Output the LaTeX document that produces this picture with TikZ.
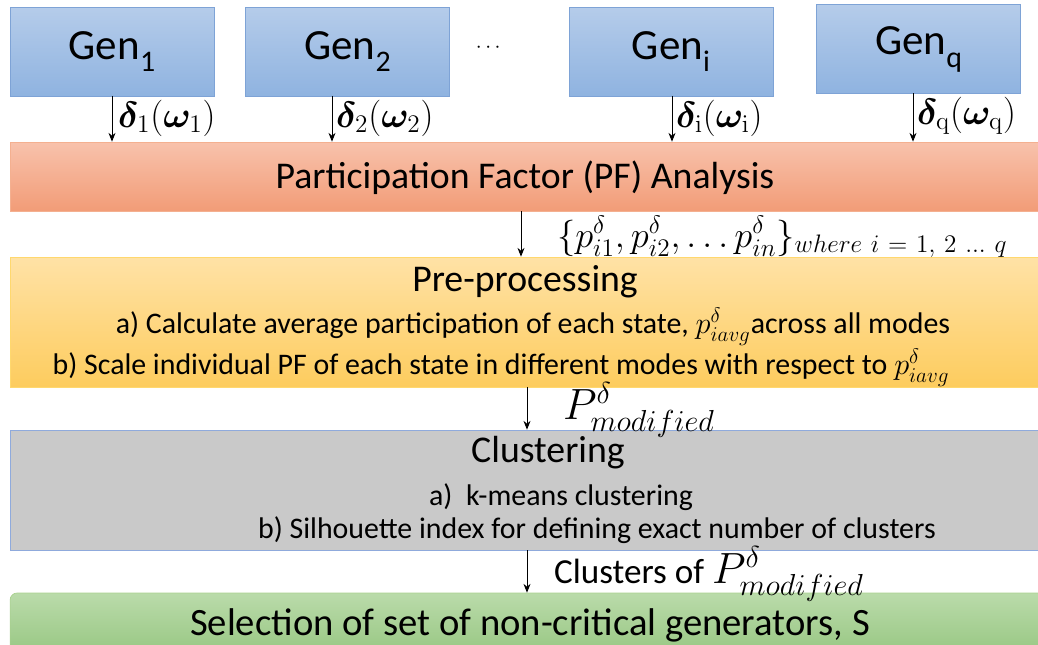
\documentclass[tikz,border=0pt]{standalone}
\usepackage[no-math]{fontspec}
\setmainfont{Carlito}
\usepackage{amsmath,bm}
\usetikzlibrary{positioning,arrows.meta}

\definecolor{genTop}{HTML}{B5CCEA}
\definecolor{genBot}{HTML}{8FB3E0}
\definecolor{genLine}{HTML}{7EA3D6}
\definecolor{pfTop}{HTML}{F8C2AC}
\definecolor{pfBot}{HTML}{F29C77}
\definecolor{pfLine}{HTML}{F4B090}
\definecolor{preTop}{HTML}{FFE2A6}
\definecolor{preBot}{HTML}{FDCC5E}
\definecolor{preLine}{HTML}{FFD86E}
\definecolor{clFill}{HTML}{C9C9C9}
\definecolor{clLine}{HTML}{8FAADC}
\definecolor{selTop}{HTML}{BADBAA}
\definecolor{selBot}{HTML}{93C47D}
\definecolor{selLine}{HTML}{A9D18E}

\newcommand{\gsub}[1]{\raisebox{-0.3em}{\fontsize{17}{17}\selectfont #1}}

\tikzset{
  genbox/.style={draw=genLine, top color=genTop, bottom color=genBot,
    minimum width=4.08cm, minimum height=1.78cm, inner sep=0pt,
    font=\fontsize{24.5}{28}\selectfont},
  stagebox/.style={minimum width=20.7cm, inner sep=0pt},
  arr/.style={-{Stealth[length=5pt,width=4pt]}, line width=0.5pt},
  lbl/.style={inner sep=1pt, font=\fontsize{20}{24}\selectfont},
  ttl/.style={inner sep=0pt, font=\fontsize{21.5}{24}\selectfont},
  sub/.style={inner sep=0pt, font=\fontsize{17}{20}\selectfont},
}

\begin{document}
\begin{tikzpicture}[x=0.02cm, y=-0.02cm]
  \useasboundingbox (0,0) rectangle (1038,645);

  % generators
  \node[genbox] (g1) at (112,51.5) {Gen\gsub{1}};
  \node[genbox] (g2) at (347.5,51.5) {Gen\gsub{2}};
  \node[font=\fontsize{12}{12}\selectfont] (dots) at (490,48) {$\cdots$};
  \node[genbox] (gi) at (671,51.5) {Gen\gsub{i}};
  \node[genbox] (gq) at (918.5,49) {Gen\gsub{q}};

  % stages
  \node[stagebox, draw=pfLine, top color=pfTop, bottom color=pfBot,
        minimum height=1.38cm] (pf) at (527.5,176.5) {};
  \node[ttl] (pft) at (525,178) {Participation Factor (PF) Analysis};

  \node[stagebox, draw=preLine, top color=preTop, bottom color=preBot,
        minimum height=2.6cm] (pre) at (527.5,322) {};
  \node[ttl] (pret) at (525,282) {Pre-processing};
  \node[sub] (prea) at (533,327) {a) Calculate average participation of each state, $p^{\delta}_{iavg}$across all modes};
  \node[sub] (preb) at (501,368) {b) Scale individual PF of each state in different modes with respect to $p^{\delta}_{iavg}$};

  \node[stagebox, draw=clLine, fill=clFill,
        minimum height=2.4cm] (cl) at (527.5,490) {};
  \node[ttl] (clt) at (548,453) {Clustering};
  \node[sub] (cla) at (561,497) {a)\ \ k-means clustering};
  \node[sub] (clb) at (597,530) {b) Silhouette index for defining exact number of clusters};

  \node[stagebox, draw=selLine, top color=selTop, bottom color=selBot,
        rounded corners=4pt, minimum height=1.4cm] (sel) at (527.5,628) {};
  \node[ttl, font=\fontsize{22}{24}\selectfont] (selt) at (530,625) {Selection of set of non-critical generators, S};

  % connectors
  \coordinate (a1) at (112,96);
  \coordinate (a2) at (332,96);
  \coordinate (ai) at (672,96);
  \coordinate (aq) at (913,93.5);
  \foreach \a in {a1,a2,ai,aq}
    \draw[arr] (\a) -- (\a |- pf.north);
  \node[lbl, anchor=west] (l1) at (116,118) {$\bm{\delta}_1(\bm{\omega}_1)$};
  \node[lbl, anchor=west] (l2) at (334,118) {$\bm{\delta}_2(\bm{\omega}_2)$};
  \node[lbl, anchor=west] (li) at (674,118) {$\bm{\delta}_{\mathrm{i}}(\bm{\omega}_{\mathrm{i}})$};
  \node[lbl, anchor=west] (lq) at (915,116) {$\bm{\delta}_{\mathrm{q}}(\bm{\omega}_{\mathrm{q}})$};

  \coordinate (b1) at (521,0);
  \draw[arr] (pf.south -| b1) -- (pre.north -| b1);
  \node[lbl, anchor=west, font=\fontsize{22}{26}\selectfont] (set) at (555,237)
    {$\{p^{\delta}_{i1}, p^{\delta}_{i2}, \dots p^{\delta}_{in}\}_{where\ i\ =\ 1,\ 2\ \dots\ q}$};

  \coordinate (b2) at (527,0);
  \draw[arr] (pre.south -| b2) -- (cl.north -| b2);
  \node[lbl, anchor=west, font=\fontsize{23}{27}\selectfont] (pm) at (561,410) {$P^{\delta}_{modified}$};

  \draw[arr] (cl.south -| b2) -- (sel.north -| b2);
  \node[lbl, anchor=west] (cp) at (552,574) {Clusters of {\fontsize{23}{27}\selectfont$P^{\delta}_{modified}$}};
\end{tikzpicture}
\end{document}
